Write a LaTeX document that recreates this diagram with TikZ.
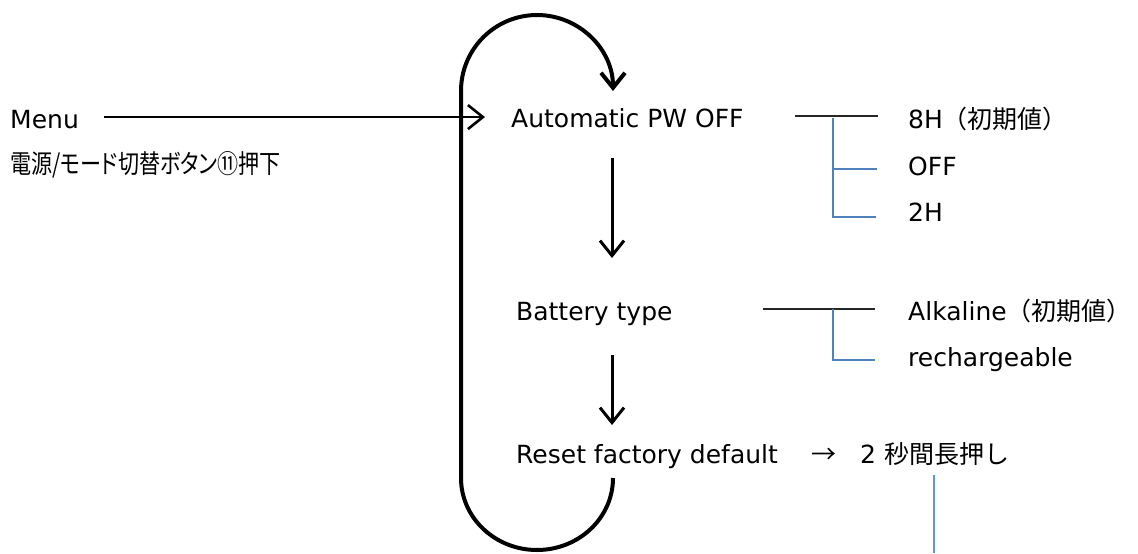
\documentclass[tikz,border=0pt]{standalone}
\usepackage{fontspec}
\setmainfont{DejaVu Sans}
\newfontfamily\jp{Noto Sans CJK JP}
\newfontfamily\jpn[RawFeature=+palt, FakeStretch=0.81]{Noto Sans CJK JP}
\usetikzlibrary{arrows.meta}
\definecolor{treeblue}{RGB}{79,129,189}
\definecolor{lineblue}{RGB}{91,155,213}
\begin{document}
\begin{tikzpicture}[x=1pt,y=1pt,
  lbl/.style={anchor=base west, inner sep=0pt, font=\fontsize{25}{29}\selectfont},
  flow/.style={line width=3pt, -{Straight Barb[length=15pt,width=24pt]}},
  loopline/.style={line width=4pt},
  treeline/.style={line width=1.1pt, treeblue},
  treeblack/.style={line width=1.1pt, black!85}]
\useasboundingbox (0,-554) rectangle (1138,0);
% labels
\node[lbl] (menu) at (10,-128) {Menu};
\node[lbl, font=\fontsize{26}{30}\selectfont\jpn] (btn) at (10,-173) {電源/モード切替ボタン⑪押下};
\node[lbl] (auto) at (511,-127) {Automatic PW OFF};
\node[lbl] (h8) at (908,-128) {8H{\jp（初期値）}};
\node[lbl] (off) at (908,-175) {OFF};
\node[lbl] (h2) at (908,-221) {2H};
\node[lbl] (batt) at (516,-320) {Battery type};
\node[lbl] (alk) at (908,-320) {Alkaline{\jp（初期値）}};
\node[lbl] (rech) at (908,-366) {rechargeable};
\node[lbl] (reset) at (516,-463) {Reset factory default};
\node[lbl] (rarr) at (811,-463) {{\jp →}};
\node[lbl] (sec) at (860,-463) {2 {\jp 秒間長押し}};
% menu arrow
\draw[flow, line width=2.6pt] ([xshift=25pt,yshift=2pt]menu.east) -- ([xshift=-26pt,yshift=2pt]menu.east -| auto.west);
% loop
\coordinate (lbot) at (461,-478);
\coordinate (ltop) at (461,-91);
\draw[loopline, -{Straight Barb[length=15pt,width=24pt]}] (lbot) -- (ltop) arc[start angle=180, end angle=0, radius=76];
\draw[loopline] (lbot) arc[start angle=180, end angle=360, x radius=76, y radius=72];
% down arrows
\coordinate (d1s) at (612,-158);
\coordinate (d1e) at (612,-258);
\coordinate (d2s) at (612,-355);
\coordinate (d2e) at (612,-425);
\draw[flow] (d1s) -- (d1e);
\draw[flow] (d2s) -- (d2e);
% tree 1
\coordinate (t1a) at (795,-116);
\coordinate (t1b) at (878,-116);
\coordinate (t1j) at (833,-118);
\coordinate (t1m) at (833,-169);
\coordinate (t1l) at (833,-217);
\draw[treeblack] (t1a) -- (t1b);
\draw[treeline] (t1j) -- (t1l) -- ++(43,0);
\draw[treeline] (t1m) -- ++(44,0);
% tree 2
\coordinate (t2a) at (763,-309);
\coordinate (t2b) at (875,-309);
\coordinate (t2j) at (833,-309);
\coordinate (t2l) at (833,-360);
\draw[treeblack] (t2a) -- (t2b);
\draw[treeline] (t2j) -- (t2l) -- ++(42,0);
% stray blue line
\coordinate (bl1) at (934,-475);
\coordinate (bl2) at (934,-553);
\draw[lineblue, line width=1.3pt] (bl1) -- (bl2);
\end{tikzpicture}
\end{document}
